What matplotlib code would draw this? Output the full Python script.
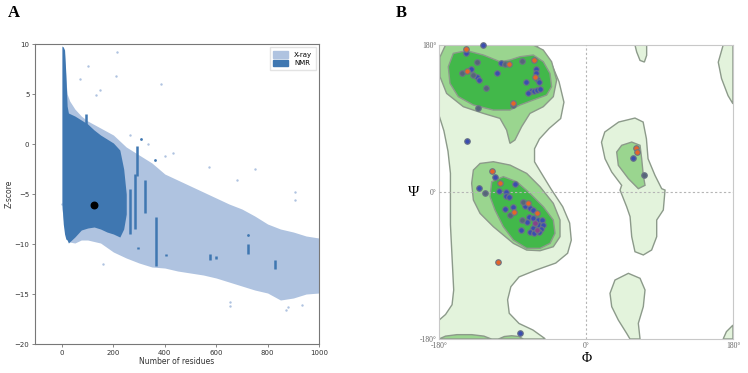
import numpy as np
import matplotlib
matplotlib.use("Agg")
import matplotlib.pyplot as plt
from matplotlib.patches import Patch

# ---------------- panel A data (ProSA z-score cloud) ----------------
xray_x = [0, 5, 10, 15, 20, 30, 50, 75, 100, 150, 200, 250, 300, 350, 400, 450, 500,
          550, 600, 650, 700, 750, 800, 850, 900, 950, 1000]
xray_upper = [9.8, 9.6, 9.0, 6.5, 5.0, 4.3, 3.5, 2.8, 2.3, 1.6, 0.9, -0.3, -1.1, -1.9, -3.0,
              -3.6, -4.2, -4.8, -5.4, -6.0, -6.5, -7.2, -8.0, -8.5, -8.8, -9.2, -9.4]
xray_lower = [-6.5, -7.5, -8.5, -9.3, -9.5, -9.8, -9.9, -9.6, -9.6, -9.9, -10.8, -11.4, -11.9,
              -12.3, -12.4, -12.7, -12.9, -13.1, -13.4, -13.8, -14.2, -14.6, -14.9, -15.6,
              -15.4, -15.0, -14.9]

nmr_x = [0, 5, 10, 15, 20, 25, 50, 75, 100, 125, 150, 175, 200, 225, 240, 250]
nmr_upper = [9.8, 9.7, 9.4, 7.0, 3.8, 3.1, 2.8, 2.4, 2.0, 1.4, 0.9, 0.5, 0.1, -0.6, -2.5, -5.0]
nmr_lower = [-6.0, -8.0, -9.0, -9.5, -9.6, -9.9, -9.3, -8.6, -8.4, -8.3, -8.5, -8.8, -9.0,
             -9.3, -8.5, -7.0]

# vertical NMR streaks: residue count, z from, z to
streak_x = [93, 168, 263, 283, 292, 323, 366, 575, 600, 724, 828, 296, 406]
streak_lo = [1.0, -1.0, -9.0, -8.5, -3.2, -6.9, -12.2, -11.6, -11.5, -11.0, -12.5, -10.5, -11.2]
streak_hi = [3.0, 0.5, -4.5, -3.0, -0.2, -3.6, -7.3, -11.0, -11.2, -10.0, -11.6, -10.3, -11.0]

xray_out_x = [214, 101, 69, 209, 386, 147, 134, 263, 335, 399, 432, 572, 750, 681, 905, 905,
              1, 160, 652, 655, 870, 880, 935, 990]
xray_out_y = [9.2, 7.8, 6.5, 6.8, 6.0, 5.4, 4.9, 0.9, 0.0, -1.2, -0.9, -2.3, -2.5, -3.6, -4.8,
              -5.6, -6.0, -12.0, -16.2, -15.8, -16.6, -16.3, -16.1, -10.5]
nmr_out_x = [309, 363, 723]
nmr_out_y = [0.5, -1.6, -9.1]

model_x = [124]
model_y = [-6.1]

# ---------------- panel B data (Ramachandran plot) ----------------
light_main_phi = [-180, -61, -43, -33, -27, -31, -45, -57, -63, -63, -57, -43, -28.5, -20, -18,
                  -22.5, -37, -61, -82, -92, -96, -94, -82, -65, -51, -50, -180, -180, -172,
                  -164, -162, -164, -166, -166, -169, -174, -180]
light_main_psi = [180, 180, 159, 135, 110, 90, 78, 65, 53, 37, 27, 4, -18, -38, -59, -75, -87,
                  -95.5, -104, -116, -132, -148.5, -161, -169, -179, -180, -180, -157, -150,
                  -138, -120, -80, -40, 23, 50, 75, 94]
light_right_phi = [19, 23, 40, 60, 70, 74, 76, 84.5, 92.7, 96.8, 94.7, 86.6, 86.6, 80.4, 70.2,
                   60, 56, 54, 49.8, 41.7, 43.7, 31.5, 23.3]
light_right_psi = [61, 73.5, 85.7, 90.6, 85.7, 65.3, 40.8, 20.4, 4.1, 2.4, -22, -34.3, -54.7,
                   -71, -77.1, -73.1, -54.7, -30.2, -18, 2.4, 8.2, 24.5, 40.8]
light_top_phi = [60, 74.3, 74.3, 71.5, 66.2, 62.1]
light_top_psi = [180, 180, 167.4, 159.2, 161.2, 171.5]
light_low_phi = [29.4, 35.5, 51.9, 66.2, 72.3, 70.2, 64.1, 66.2, 53.9, 49.8, 39.6, 31.5]
light_low_psi = [-124.1, -107.8, -99.6, -105.7, -120, -140.4, -160.8, -180, -180, -173.1,
                 -156.8, -140.4]
light_edge_top_phi = [168, 162, 166, 174, 180, 180]
light_edge_top_psi = [180, 159, 139, 118, 108, 180]
light_edge_low_phi = [168, 172, 180, 180]
light_edge_low_psi = [-180, -171, -163, -180]

mid_beta_phi = [-172, -64.5, -52.3, -42.1, -35.9, -40, -52.3, -68.6, -78.8, -87, -93.1, -97.2,
                -105.3, -125.7, -150.2, -170.7, -178.8, -179]
mid_beta_psi = [180, 180, 173.9, 159.6, 137.2, 116.8, 104.5, 96.3, 80, 63.7, 59.6, 75.9, 90.2,
                96.3, 104.5, 120.8, 141.3, 165]
mid_alpha_phi = [-137.9, -129.7, -113.4, -93, -72.6, -56.3, -40, -31.8, -31.8, -40, -56.3,
                 -72.6, -88.9, -113.4, -129.7, -137.9, -140]
mid_alpha_psi = [26.9, 35, 37.1, 33, 22.8, 6.5, -13.9, -34.3, -54.7, -67, -71.9, -71.1, -62.9,
                 -42.5, -26.2, -9.8, 10.6]
mid_right_phi = [37.6, 43.7, 56, 66.2, 68.2, 70.2, 72.3, 64.1, 51.9, 39.6]
mid_right_psi = [49, 57.2, 61.2, 57.2, 40.8, 20.4, 8.2, 4.1, 16.4, 32.7]
mid_bump1_phi = [-180, -172, -158, -140, -125, -116]
mid_bump1_psi = [-180, -176.5, -174.7, -174.7, -176.5, -180]
mid_bump2_phi = [-107, -100, -91, -82, -77]
mid_bump2_psi = [-180, -177, -176, -177, -180]

core_beta_phi = [-162.5, -146.2, -125.7, -105.3, -93.1, -80.8, -64.5, -52.3, -44.1, -42.1,
                 -48.2, -64.5, -80.8, -93.1, -113.5, -138, -156.4, -166.6, -168.6]
core_beta_psi = [169.8, 173.1, 167.8, 159.6, 161.7, 165.7, 167.8, 159.6, 145.3, 129, 118.8,
                 112.7, 106.6, 100.4, 100.4, 106.6, 116.8, 133.1, 153.5]
core_alpha_phi = [-115.4, -101.2, -84.8, -68.5, -52.2, -40, -37.9, -44, -56.3, -72.6, -88.9,
                  -101.2, -111.4, -117.5]
core_alpha_psi = [12.6, 18.8, 12.6, -1.7, -18, -34.3, -50.6, -62.9, -69, -69, -58.8, -42.5,
                  -22.1, -5.6]

blue_phi = [-126, -147.4, -104.1, -141.3, -133.9, -131.1, -109.4, -61.3, -61.7, -59.6, -73.5,
            -57.2, -67.4, -63.3, -59.6, -56.4, -70.6, -145.3, -111.4, -87.3, -131.4, -106.7,
            -97.7, -97.7, -94.6, -74.2, -88.9, -99.2, -68.5, -64.4, -69.3, -64.4, -58.3, -54.2,
            -72.6, -57.1, -53.0, -64.4, -54.6, -79.9, -68.5, -63.7, -57.1, -80.8, 58.0]
blue_psi = [180, 169.8, 158.4, 150.2, 141.3, 137.2, 145.3, 150.2, 145.3, 138, 135.1, 135.1,
            124.1, 124.1, 124.9, 125.7, 120.8, 62.9, 18.8, 9.8, 5.3, 1.6, 0.4, -4.9, -6.6, -17.2,
            -18, -21.3, -20, -22.1, -30.2, -32.3, -34.3, -34.3, -36.4, -40.4, -40.4, -44.5,
            -45.7, -46.6, -48.6, -49.8, -48.6, -172.3, 41.2]
gray_phi = [-133.1, -98.8, -78.4, -151.9, -138, -122.5, -132.7, -89, -123.2, -77.5, -93.0,
            -78.7, 71.5]
gray_psi = [159.6, 156.4, 160.8, 145.3, 143.3, 127, 102.5, 106.6, -0.8, -11.9, -28.2, -34.3,
            20.8]
orange_phi = [-147.4, -94.7, -63.3, -146.2, -62.5, -89.8, -115.0, -105.3, -70.5, -88.1, -60.3,
              -107.3, 61.3, 62.9]
orange_psi = [174.7, 156.4, 161.7, 148.6, 141.3, 109.4, 25.7, 11.4, -13.1, -24.5, -26.2,
              -85.3, 53.5, 49.4]
purple_phi = [-62.4, -60.3]
purple_psi = [-38.4, -46.6]

# ---------------- figure ----------------
fig = plt.figure(figsize=(7.48, 3.73), dpi=100)

xray_col = "#afc3e0"
nmr_col = "#3f77b1"

axA = fig.add_axes([0.0468, 0.0777, 0.3797, 0.8043])
axA.fill_between(xray_x, xray_lower, xray_upper, color=xray_col, lw=0, zorder=1)
axA.scatter(xray_out_x, xray_out_y, s=3, color=xray_col, lw=0, zorder=1)
axA.fill_between(nmr_x, nmr_lower, nmr_upper, color=nmr_col, lw=0, zorder=2)
axA.vlines(streak_x, streak_lo, streak_hi, color=nmr_col, lw=1.8, zorder=2)
axA.scatter(nmr_out_x, nmr_out_y, s=4, color=nmr_col, lw=0, zorder=2)
axA.scatter(model_x, model_y, s=22, color="black", zorder=5)
axA.set_xlim(-105, 1000)
axA.set_ylim(-20, 10)
axA.set_xticks([0, 200, 400, 600, 800, 1000])
axA.set_yticks([-20, -15, -10, -5, 0, 5, 10])
axA.tick_params(labelsize=5, length=2, width=0.5, color="#555555", labelcolor="#333333", pad=2)
for sp in axA.spines.values():
    sp.set_color("#777777")
    sp.set_linewidth(0.8)
axA.set_xlabel("Number of residues", fontsize=5.5, color="#333333", labelpad=1)
axA.set_ylabel("Z-score", fontsize=5.5, color="#333333", labelpad=1)
axA.legend(handles=[Patch(color=xray_col, label="X-ray"), Patch(color=nmr_col, label="NMR")],
           loc="upper right", fontsize=5, frameon=True, edgecolor="#dddddd", fancybox=False,
           handlelength=2.2, handleheight=1.1, borderpad=0.5, labelspacing=0.3)

# panel B
light = "#e3f3dc"
mid = "#9ad58f"
core = "#42b84a"
edge = "#8c9a8a"

axB = fig.add_axes([0.5869, 0.0912, 0.393, 0.788])
for phi, psi in [(light_main_phi, light_main_psi), (light_right_phi, light_right_psi),
                 (light_top_phi, light_top_psi), (light_low_phi, light_low_psi),
                 (light_edge_top_phi, light_edge_top_psi), (light_edge_low_phi, light_edge_low_psi)]:
    axB.fill(phi, psi, facecolor=light, edgecolor=edge, lw=1.0, zorder=1)
for phi, psi in [(mid_beta_phi, mid_beta_psi), (mid_alpha_phi, mid_alpha_psi),
                 (mid_right_phi, mid_right_psi), (mid_bump1_phi, mid_bump1_psi),
                 (mid_bump2_phi, mid_bump2_psi)]:
    axB.fill(phi, psi, facecolor=mid, edgecolor=edge, lw=1.0, zorder=2)
for phi, psi in [(core_beta_phi, core_beta_psi), (core_alpha_phi, core_alpha_psi)]:
    axB.fill(phi, psi, facecolor=core, edgecolor=edge, lw=1.0, zorder=3)

axB.axhline(0, color="#b5b5b5", lw=0.8, ls=(0, (2, 2)), zorder=4)
axB.axvline(0, color="#b5b5b5", lw=0.8, ls=(0, (2, 2)), zorder=4)

pt_edge = "#6b7585"
axB.scatter(blue_phi, blue_psi, s=16, color="#3b4db0", edgecolors=pt_edge, lw=0.8, zorder=6,
            clip_on=False)
axB.scatter(gray_phi, gray_psi, s=16, color="#56657a", edgecolors=pt_edge, lw=0.8, zorder=6)
axB.scatter(orange_phi, orange_psi, s=16, color="#e5642a", edgecolors=pt_edge, lw=0.8, zorder=6)
axB.scatter(purple_phi, purple_psi, s=16, color="#8a3f8c", edgecolors=pt_edge, lw=0.8, zorder=6)

axB.set_xlim(-180, 180)
axB.set_ylim(-180, 180)
axB.set_xticks([-180, 0, 180])
axB.set_yticks([-180, 0, 180])
axB.set_xticklabels(["-180\u00b0", "0\u00b0", "180\u00b0"])
axB.set_yticklabels(["-180\u00b0", "0\u00b0", "180\u00b0"])
axB.tick_params(length=0, pad=2, labelsize=5.5, labelcolor="#666666")
for lab in axB.get_xticklabels() + axB.get_yticklabels():
    lab.set_family("Liberation Serif")
for sp in axB.spines.values():
    sp.set_color("#c8c8c8")
    sp.set_linewidth(0.8)
axB.text(-211, 0, "\u03a8", fontsize=11, family="Liberation Serif", ha="center", va="center",
         clip_on=False)
axB.text(1, -204, "\u03a6", fontsize=10, family="Liberation Serif", ha="center", va="center",
         clip_on=False)

fig.text(0.0187, 0.965, "A", fontsize=12, fontweight="bold", family="Liberation Serif",
         ha="center", va="center")
fig.text(0.537, 0.966, "B", fontsize=12, fontweight="bold", family="Liberation Serif",
         ha="center", va="center")

fig.savefig("out.png", dpi=100)
